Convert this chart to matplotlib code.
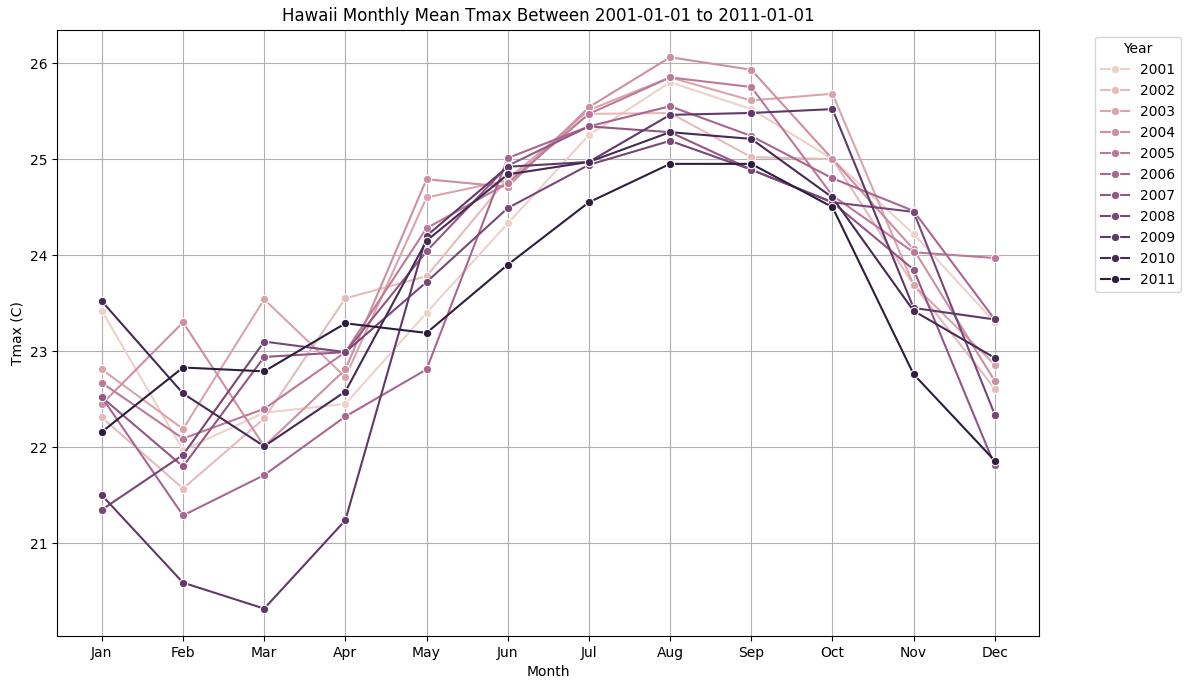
import matplotlib
matplotlib.use("Agg")
import matplotlib.pyplot as plt
import seaborn as sns
import pandas as pd

months = ['Jan', 'Feb', 'Mar', 'Apr', 'May', 'Jun', 'Jul', 'Aug', 'Sep', 'Oct', 'Nov', 'Dec']
years = list(range(2001, 2012))

tmax = {
    2001: [23.42, 21.97, 22.36, 22.45, 23.40, 24.33, 25.25, 25.80, 25.52, 25.00, 24.22, 23.30],
    2002: [22.31, 21.57, 22.30, 23.55, 23.78, 24.80, 25.47, 25.48, 25.02, 25.00, 23.69, 22.61],
    2003: [22.81, 22.19, 23.54, 22.73, 24.60, 24.78, 25.51, 25.85, 25.61, 25.68, 23.69, 22.86],
    2004: [22.45, 23.30, 22.01, 22.81, 24.79, 24.71, 25.54, 26.06, 25.93, 25.00, 24.06, 22.69],
    2005: [22.67, 22.09, 22.40, 22.99, 24.28, 24.75, 25.47, 25.85, 25.75, 24.62, 24.03, 23.97],
    2006: [22.52, 21.29, 21.71, 22.32, 22.81, 25.01, 25.34, 25.55, 25.24, 24.80, 24.46, 23.33],
    2007: [22.52, 21.80, 22.94, 22.99, 24.04, 24.93, 25.34, 25.28, 24.89, 24.55, 23.85, 21.81],
    2008: [21.35, 21.92, 23.10, 22.99, 23.72, 24.49, 24.94, 25.19, 24.89, 24.55, 24.45, 22.34],
    2009: [21.50, 20.59, 20.32, 21.24, 24.20, 24.92, 24.97, 25.46, 25.48, 25.52, 23.45, 23.33],
    2010: [23.52, 22.56, 22.01, 22.58, 24.15, 24.84, 24.97, 25.28, 25.21, 24.60, 23.42, 22.93],
    2011: [22.16, 22.83, 22.79, 23.29, 23.19, 23.90, 24.55, 24.95, 24.95, 24.50, 22.76, 21.86],
}

rows = []
for y in years:
    for m, v in zip(months, tmax[y]):
        rows.append({'Year': y, 'Month': m, 'Tmax': v})
df = pd.DataFrame(rows)

fig, ax = plt.subplots(figsize=(11.92, 6.9), dpi=100)
sns.lineplot(data=df, x='Month', y='Tmax', hue='Year', marker='o', legend='full', ax=ax)
ax.set_title('Hawaii Monthly Mean Tmax Between 2001-01-01 to 2011-01-01')
ax.set_xlabel('Month')
ax.set_ylabel('Tmax (C)')
ax.grid(True)
ax.legend(title='Year', bbox_to_anchor=(1.05, 1), loc='upper left')
plt.subplots_adjust(left=0.048, right=0.872, top=0.957, bottom=0.078)
plt.savefig('out.png', dpi=100)
